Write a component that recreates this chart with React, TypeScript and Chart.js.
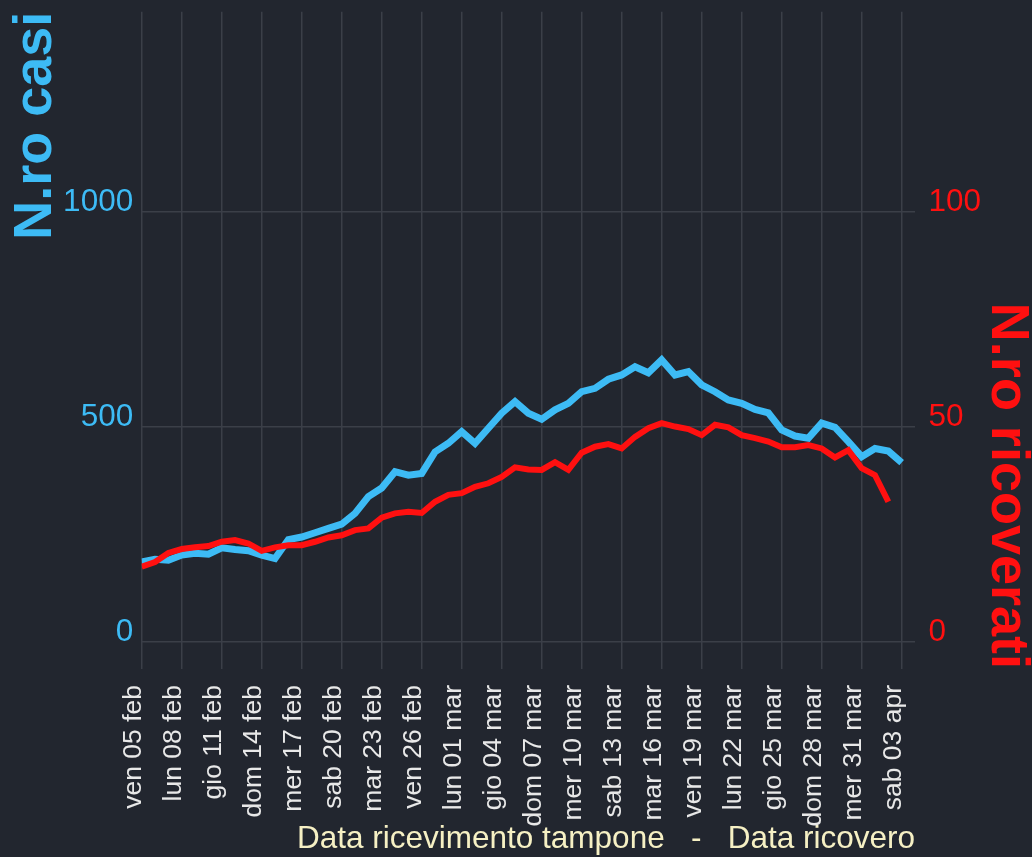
import React, { useEffect, useRef } from 'react';
import { Chart, registerables } from 'chart.js';

Chart.register(...registerables);

const dateLabels = [
  'ven 05 feb', 'sab 06 feb', 'dom 07 feb', 'lun 08 feb', 'mar 09 feb', 'mer 10 feb', 'gio 11 feb',
  'ven 12 feb', 'sab 13 feb', 'dom 14 feb', 'lun 15 feb', 'mar 16 feb', 'mer 17 feb', 'gio 18 feb',
  'ven 19 feb', 'sab 20 feb', 'dom 21 feb', 'lun 22 feb', 'mar 23 feb', 'mer 24 feb', 'gio 25 feb',
  'ven 26 feb', 'sab 27 feb', 'dom 28 feb', 'lun 01 mar', 'mar 02 mar', 'mer 03 mar', 'gio 04 mar',
  'ven 05 mar', 'sab 06 mar', 'dom 07 mar', 'lun 08 mar', 'mar 09 mar', 'mer 10 mar', 'gio 11 mar',
  'ven 12 mar', 'sab 13 mar', 'dom 14 mar', 'lun 15 mar', 'mar 16 mar', 'mer 17 mar', 'gio 18 mar',
  'ven 19 mar', 'sab 20 mar', 'dom 21 mar', 'lun 22 mar', 'mar 23 mar', 'mer 24 mar', 'gio 25 mar',
  'ven 26 mar', 'sab 27 mar', 'dom 28 mar', 'lun 29 mar', 'mar 30 mar', 'mer 31 mar', 'gio 01 apr',
  'ven 02 apr', 'sab 03 apr',
];

const casi = [
  186, 192, 190, 202, 206, 204, 219, 215, 212, 202,
  194, 238, 244, 254, 264, 274, 299, 338, 358, 396,
  388, 392, 442, 462, 489, 462, 497, 532, 559, 532,
  518, 540, 555, 582, 590, 611, 621, 640, 626, 656,
  621, 629, 598, 582, 563, 555, 541, 533, 493, 479,
  474, 509, 499, 466, 431, 450, 444, 417,
];

const ricoverati = [
  17.5, 18.6, 20.7, 21.6, 22.0, 22.3, 23.3, 23.7, 22.9, 21.2,
  22.0, 22.5, 22.5, 23.3, 24.3, 24.8, 26.0, 26.4, 28.9, 29.9,
  30.3, 30.0, 32.6, 34.2, 34.6, 36.1, 36.9, 38.4, 40.6, 40.1,
  40.0, 41.8, 40.0, 44.0, 45.4, 46.0, 45.0, 47.7, 49.7, 50.9,
  50.1, 49.5, 48.1, 50.5, 49.9, 48.1, 47.4, 46.6, 45.3, 45.3,
  45.8, 45.0, 42.9, 44.6, 40.4, 38.8, 32.6, null,
];

const casiTicks = [0, 500, 1000];
const ricoveratiTicks = [0, 50, 100];

const BG = '#22262f';
const GRID = '#3b3f48';
const BLUE = '#3dbbf5';
const RED = '#ff1010';
const FONT = 'Liberation Sans, Arial, sans-serif';

export default function App() {
  const canvasRef = useRef<HTMLCanvasElement | null>(null);

  useEffect(() => {
    if (!canvasRef.current) return;
    const chart = new Chart(canvasRef.current, {
      type: 'line',
      data: {
        datasets: [
          {
            label: 'N.ro casi',
            data: casi.map((v, i) => ({ x: i, y: v })),
            borderColor: BLUE,
            backgroundColor: BLUE,
            borderWidth: 7,
            pointRadius: 0,
            tension: 0,
            yAxisID: 'y',
            order: 2,
          },
          {
            label: 'N.ro ricoverati',
            data: ricoverati.map((v, i) => ({ x: i, y: v })),
            borderColor: RED,
            backgroundColor: RED,
            borderWidth: 6,
            pointRadius: 0,
            tension: 0,
            yAxisID: 'y1',
            order: 1,
          },
        ],
      },
      options: {
        animation: false,
        responsive: true,
        maintainAspectRatio: false,
        layout: { padding: { top: 11.7, left: 0, right: 0, bottom: 0 } },
        plugins: { legend: { display: false }, tooltip: { enabled: false } },
        scales: {
          x: {
            type: 'linear',
            min: 0,
            max: 58,
            border: { display: false },
            grid: { color: GRID, lineWidth: 1.5, drawTicks: false },
            ticks: {
              stepSize: 3,
              includeBounds: false,
              autoSkip: false,
              maxRotation: 90,
              minRotation: 90,
              padding: 16,
              labelOffset: -8,
              color: '#e8e8e8',
              font: { family: FONT, size: 26.5 },
              callback: (value: any) => dateLabels[Number(value)] ?? '',
            },
            title: {
              display: true,
              text: 'Data ricevimento tampone   -   Data ricovero',
              align: 'end',
              color: '#f6f0c4',
              font: { family: FONT, size: 31.5, lineHeight: 1.15 },
              padding: { top: 0, bottom: 0 },
            },
            afterFit: (s: any) => {
              s.height = 188;
              s.paddingLeft = 0;
              s.paddingRight = 0;
            },
          },
          y: {
            type: 'linear',
            position: 'left',
            min: -63,
            max: 1466,
            border: { display: false },
            grid: { color: GRID, lineWidth: 1.5, drawTicks: false },
            afterBuildTicks: (s: any) => {
              s.ticks = casiTicks.map((v) => ({ value: v }));
            },
            ticks: {
              padding: 8.5,
              labelOffset: -10,
              color: BLUE,
              font: { family: FONT, size: 31.5 },
              callback: (value: any) => String(value),
            },
            title: {
              display: true,
              text: 'N.ro casi',
              align: 'end',
              color: BLUE,
              font: { family: FONT, size: 54, weight: 'bold', lineHeight: 1 },
              padding: { top: 9, bottom: 0 },
            },
            afterFit: (s: any) => {
              s.width = 141.7;
              s.paddingTop = 0;
              s.paddingBottom = 0;
            },
          },
          y1: {
            type: 'linear',
            position: 'right',
            min: -6.3,
            max: 146.6,
            border: { display: false },
            grid: { display: false, drawTicks: false },
            afterBuildTicks: (s: any) => {
              s.ticks = ricoveratiTicks.map((v) => ({ value: v }));
            },
            ticks: {
              padding: 13.5,
              labelOffset: -10,
              color: RED,
              font: { family: FONT, size: 31.5 },
              callback: (value: any) => String(value),
            },
            title: {
              display: true,
              text: 'N.ro ricoverati',
              align: 'start',
              color: RED,
              font: { family: FONT, size: 54, weight: 'bold', lineHeight: 1 },
              padding: { top: -2, bottom: 0 },
            },
            afterFit: (s: any) => {
              s.width = 117;
              s.paddingTop = 0;
              s.paddingBottom = 0;
            },
          },
        },
      },
    });
    return () => chart.destroy();
  }, []);

  return (
    <div
      style={{
        position: 'fixed',
        left: 0,
        top: 0,
        width: '1032px',
        height: '857px',
        background: BG,
      }}
    >
      <canvas ref={canvasRef} />
    </div>
  );
}
